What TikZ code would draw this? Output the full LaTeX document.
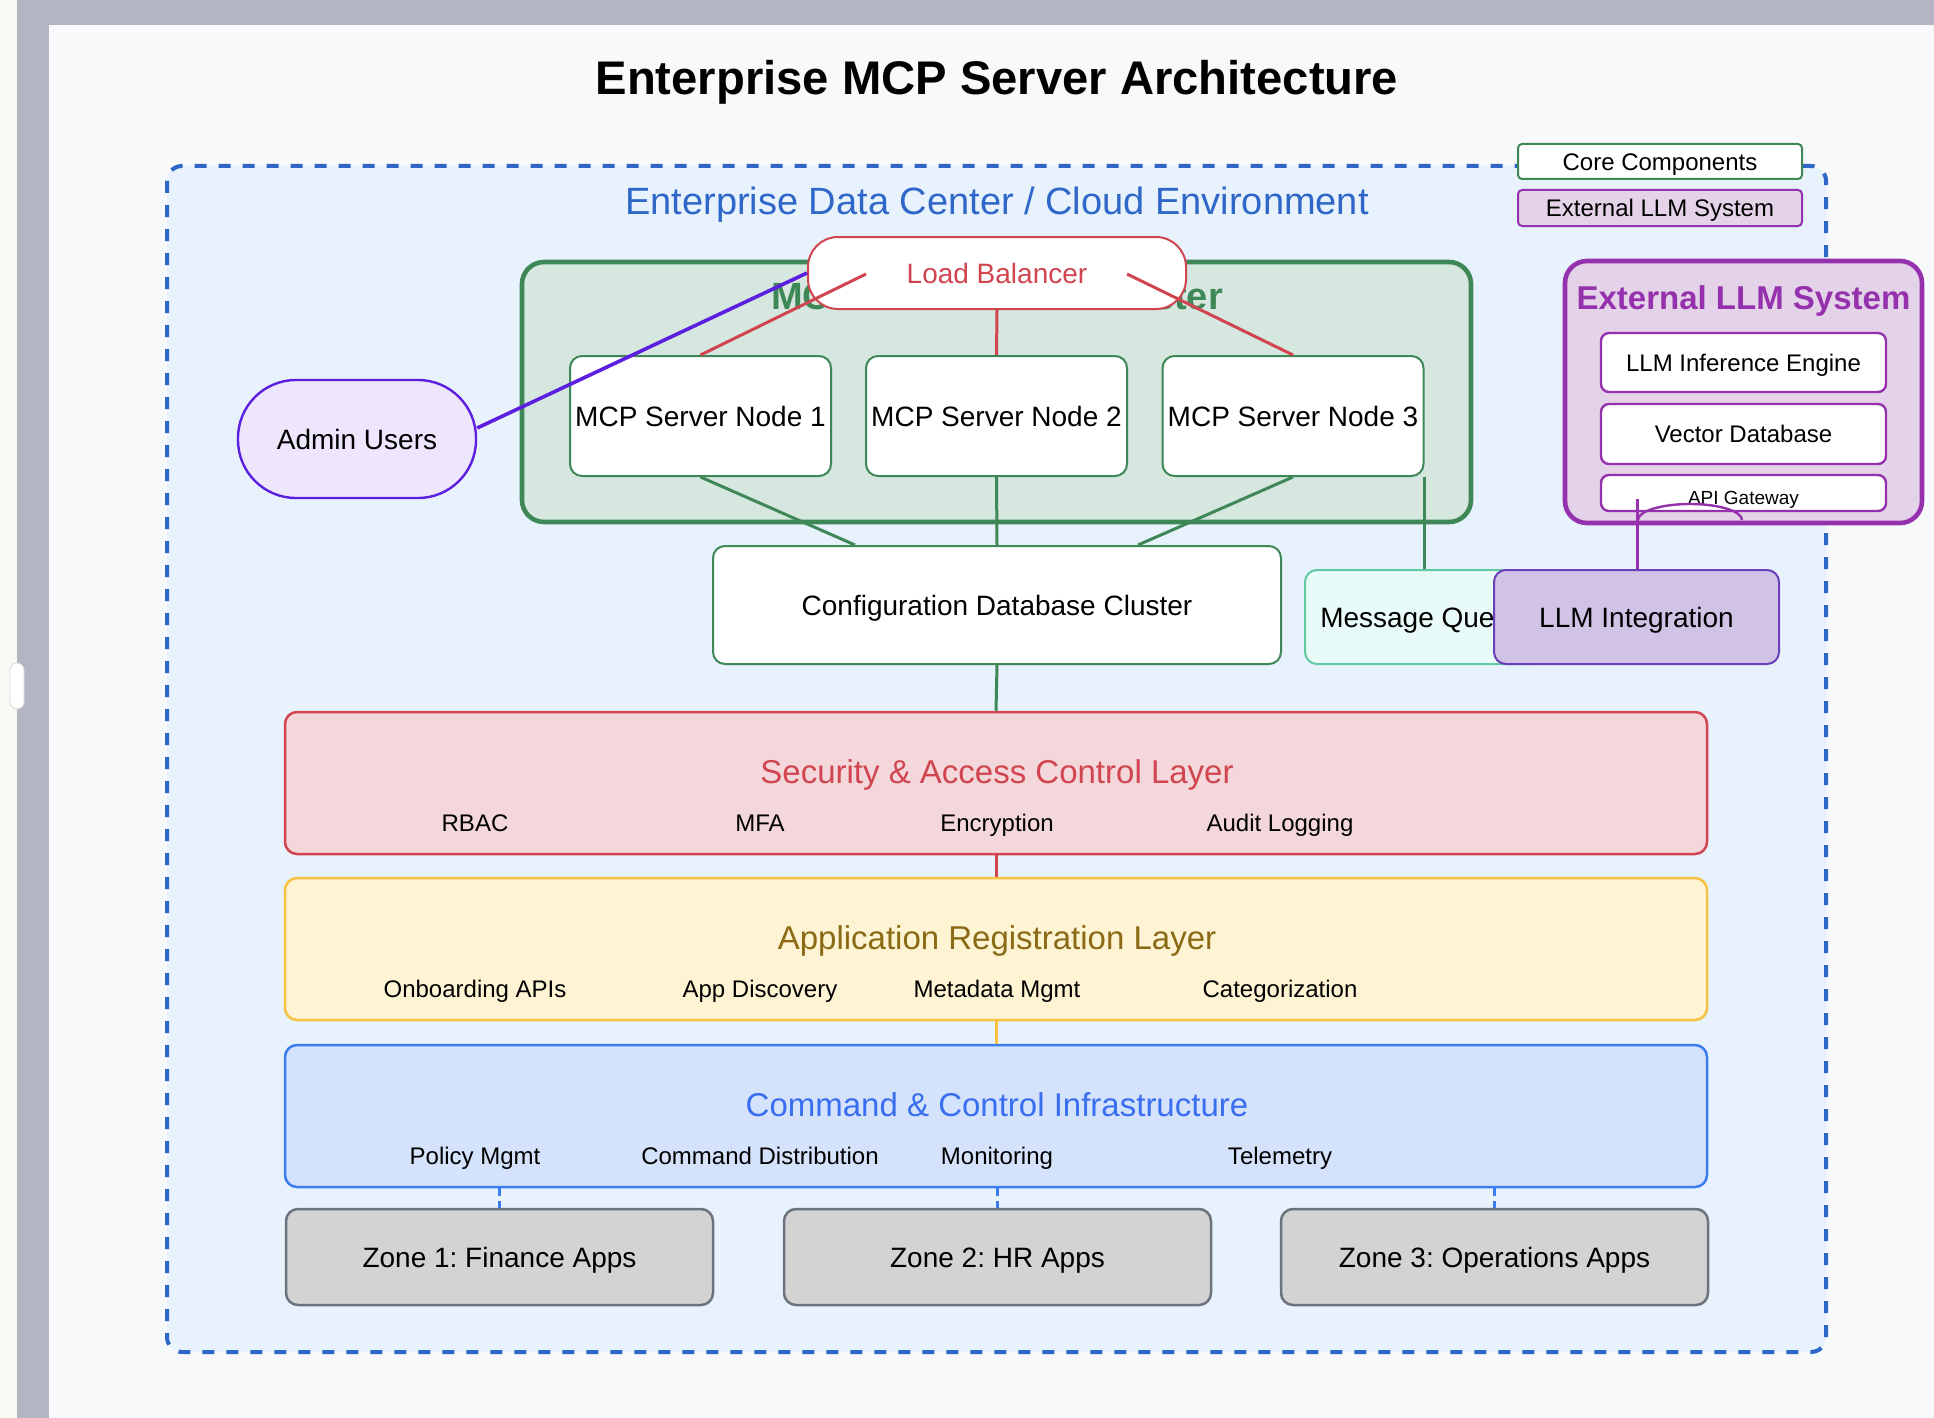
\documentclass[tikz,border=0pt]{standalone}
\usepackage{fontspec}
\setmainfont{Liberation Sans}
\frenchspacing
\definecolor{pagebg}{HTML}{F8F9FB}
\definecolor{chrome}{HTML}{B3B6C2}
\definecolor{cream}{HTML}{F9F8F4}
\definecolor{envblue}{HTML}{2F67C9}
\definecolor{envfill}{HTML}{E8F2FD}
\definecolor{coregreen}{HTML}{3E8757}
\definecolor{corefill}{HTML}{D5E7DE}
\definecolor{lbred}{HTML}{D0454F}
\definecolor{secfill}{HTML}{F3D7DA}
\definecolor{appyellow}{HTML}{F6C244}
\definecolor{appfill}{HTML}{FEF3D2}
\definecolor{apptext}{HTML}{8A6A14}
\definecolor{cmdblue}{HTML}{3B7CF0}
\definecolor{cmdfill}{HTML}{D4E2FB}
\definecolor{cmdtext}{HTML}{3A6EF0}
\definecolor{zonefill}{HTML}{D3D3D3}
\definecolor{zonegrey}{HTML}{6C737D}
\definecolor{llmpurple}{HTML}{9531AD}
\definecolor{llmfill}{HTML}{E4D3E8}
\definecolor{intpurple}{HTML}{6A3FB8}
\definecolor{intfill}{HTML}{D0C3E6}
\definecolor{mqgreen}{HTML}{62C9A0}
\definecolor{mqfill}{HTML}{E9FBF8}
\definecolor{adminviolet}{HTML}{5C1FE0}
\definecolor{adminfill}{HTML}{EDE6FC}
\begin{document}
\begin{tikzpicture}
[x=0.5pt,y=-0.5pt,
 box/.style={draw,rounded corners=6pt,inner sep=0pt,line width=1pt},
 f14/.style={font=\fontsize{14}{17}\selectfont,text height=10pt,text depth=0pt},
 f12/.style={font=\fontsize{12}{14}\selectfont,text height=8.6pt,text depth=0pt},
 layer/.style={draw,rounded corners=6pt,line width=1.25pt,minimum width=711pt,minimum height=71pt,inner sep=0pt},
 ltitle/.style={anchor=base,font=\fontsize{16.5}{20}\selectfont},
 item/.style={anchor=base,font=\fontsize{12}{14}\selectfont},
 link/.style={line width=1.5pt},
 zonelink/.style={cmdblue,line width=1.5pt,dash pattern=on 4pt off 2.5pt}]
\useasboundingbox (0,0) rectangle (1934,1418);

% window and page
\fill[cream] (0,0) rectangle (1934,1418);
\fill[chrome] (17,0) rectangle (1934,1418);
\fill[pagebg] (49,25) rectangle (1934,1418);
\draw[fill=white,draw=black!15,rounded corners=3.5pt] (10,663) rectangle (24,709);

% environment
\draw[envblue,fill=envfill,line width=2pt,dash pattern=on 6pt off 6pt,rounded corners=7.5pt] (167,166) rectangle (1826,1352);
\node[anchor=base,font=\fontsize{23.6}{28}\selectfont\bfseries] (title) at (997,95) {Enterprise MCP Server Architecture};
\node[anchor=base,envblue,font=\fontsize{19}{23}\selectfont] (env) at (997,214) {Enterprise Data Center / Cloud Environment};

% legend
\node[box,f12,fill=white,draw=coregreen,rounded corners=2pt,minimum width=142pt,minimum height=17.5pt] (lgcore) at (1660,161.5) {Core Components};
\node[box,f12,fill=llmfill,draw=llmpurple,rounded corners=2pt,minimum width=142pt,minimum height=18pt] (lgllm) at (1660,208) {External LLM System};

% server cluster
\node[draw=coregreen,fill=corefill,line width=2.3pt,rounded corners=11pt,minimum width=474.5pt,minimum height=130pt,inner sep=0pt] (cluster) at (996.5,392) {};
\node[anchor=base,coregreen,font=\fontsize{19}{23}\selectfont\bfseries] (clustertitle) at (997,309) {MCP Core Server Cluster};
\foreach \i/\x in {1/700.5,2/996.5,3/1293}
  \node[box,f14,fill=white,draw=coregreen,minimum width=130.5pt,minimum height=60pt] (n\i) at (\x,416) {MCP Server Node \i};
\node[box,f14,fill=white,draw=lbred,text=lbred,rounded corners=15pt,minimum width=189pt,minimum height=36pt] (lb) at (997,273) {Load Balancer};

\node[box,f14,fill=adminfill,draw=adminviolet,line width=1.2pt,rounded corners=29pt,minimum width=119pt,minimum height=59pt] (admin) at (357,439) {Admin Users};

% external llm
\node[draw=llmpurple,fill=llmfill,line width=2.3pt,rounded corners=11pt,minimum width=178.5pt,minimum height=131pt,inner sep=0pt] (llmsys) at (1743.5,392) {};
\node[anchor=base,llmpurple,font=\fontsize{16.5}{20}\selectfont\bfseries] (llmtitle) at (1743.5,309) {External LLM System};
\node[box,f12,fill=white,draw=llmpurple,line width=1.2pt,rounded corners=4pt,minimum width=142.5pt,minimum height=29.5pt] (infer) at (1743.5,362.5) {LLM Inference Engine};
\node[box,f12,fill=white,draw=llmpurple,line width=1.2pt,rounded corners=4pt,minimum width=142.5pt,minimum height=30pt] (vecdb) at (1743.5,434) {Vector Database};
\node[box,fill=white,draw=llmpurple,line width=1.2pt,rounded corners=4pt,minimum width=142.5pt,minimum height=18pt] (gw) at (1743.5,493) {};
\node[anchor=base,font=\fontsize{9.5}{11}\selectfont] (gwtext) at (1743.5,504) {API Gateway};

\node[box,f14,fill=white,draw=coregreen,minimum width=284pt,minimum height=59pt] (cfg) at (997,605) {Configuration Database Cluster};
\node[box,f14,fill=mqfill,draw=mqgreen,minimum width=118pt,minimum height=47pt] (mq) at (1423,617) {Message Queue};
\node[box,f14,fill=intfill,draw=intpurple,minimum width=142.5pt,minimum height=47pt] (llmint) at (1636.5,617) {LLM Integration};

% layers
\node[layer,draw=lbred,fill=secfill] (sec) at (996,783) {};
\node[ltitle,lbred] at (997,783) {Security \& Access Control Layer};
\foreach \t/\x in {RBAC/475,MFA/760,Encryption/997,Audit Logging/1280}
  \node[item] at (\x,831) {\t};

\node[layer,draw=appyellow,fill=appfill] (app) at (996,949) {};
\node[ltitle,apptext] at (997,949) {Application Registration Layer};
\foreach \t/\x in {Onboarding APIs/475,App Discovery/760,Metadata Mgmt/997,Categorization/1280}
  \node[item] at (\x,997) {\t};

\node[layer,draw=cmdblue,fill=cmdfill] (cmd) at (996,1116) {};
\node[ltitle,cmdtext] at (997,1116) {Command \& Control Infrastructure};
\foreach \t/\x in {Policy Mgmt/475,Command Distribution/760,Monitoring/997,Telemetry/1280}
  \node[item] at (\x,1164) {\t};

\foreach \i/\x/\t in {1/499.5/Finance Apps,2/997.5/HR Apps,3/1494.5/Operations Apps}
  \node[box,f14,fill=zonefill,draw=zonegrey,line width=1.25pt,minimum width=213.5pt,minimum height=48pt] (z\i) at (\x,1257) {Zone \i: \t};

% connectors
\coordinate (lbl) at (866,274);
\coordinate (lbr) at (1127,274);
\coordinate (gwtap) at (1637,499);
\draw[link,coregreen] (n1.south) -- ([xshift=-71pt]cfg.north);
\draw[link,coregreen] (n2.south) -- (cfg.north);
\draw[link,coregreen] (n3.south) -- ([xshift=70.5pt]cfg.north);
\draw[link,coregreen] (n3.south east) -- (n3.south east |- mq.north);
\draw[link,coregreen] (cfg.south) -- (sec.north);
\draw[link,lbred] (sec.south) -- (app.north);
\draw[link,appyellow] (app.south) -- (cmd.north);
\foreach \i in {1,2,3}
  \draw[zonelink] (z\i.north |- cmd.south) -- (z\i.north);
\draw[link,lbred] (n1.north) -- (lbl);
\draw[link,lbred] (n3.north) -- (lbr);
\draw[link,lbred] (lb.south) -- (n2.north);
\draw[adminviolet,line width=1.8pt] ([yshift=5.5pt]admin.east) -- (lb.west);
\draw[link,llmpurple] (gwtap) -- (gwtap |- llmint.north);
\draw[llmpurple,line width=1.2pt] (1638,520) arc[start angle=180,end angle=0,x radius=26pt,y radius=8pt];
\end{tikzpicture}
\end{document}
